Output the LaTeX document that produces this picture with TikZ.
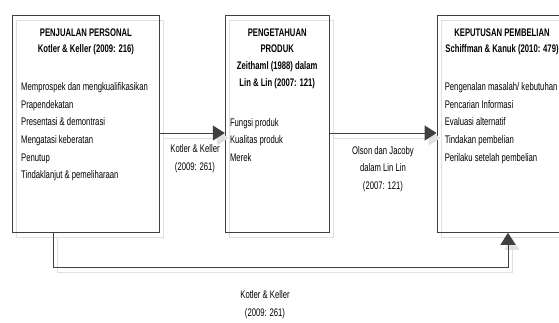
\documentclass[tikz,border=0pt]{standalone}
\usepackage{fontspec}
\setmainfont{Liberation Sans}[FakeStretch=0.7]
\usepackage{tikz}
\usetikzlibrary{arrows.meta, positioning, calc}
\usepackage{xcolor}

\begin{document}
\begin{tikzpicture}[
    x=1pt, y=-1pt,
    font=\fontsize{11}{17.6}\selectfont,
    ghost/.style={preaction={draw=black!12, line width=1pt, transform canvas={shift={(4pt,-5pt)}}}},
    box/.style={rectangle, draw=black!75, line width=0.8pt, ghost, minimum height=217pt, inner sep=0pt},
    title/.style={align=center, inner sep=0pt, font=\fontsize{11}{16.8}\selectfont\bfseries, execute at begin node=\strut},
    items/.style={align=left, inner sep=0pt, execute at begin node=\strut},
    lab/.style={align=center, inner sep=0pt, execute at begin node=\strut},
    line/.style={draw=black!75, line width=0.8pt, ghost, -{Triangle[length=12pt, width=15pt]}}
]
\useasboundingbox (0,0) rectangle (559,322);

% Boxes
\node[box, minimum width=147pt, anchor=north west] (personal) at (12,15) {};
\node[box, minimum width=104pt, right=65pt of personal] (produk) {};
\node[box, minimum width=130pt, right=107pt of produk] (keputusan) {};

% Box texts
\node[title, below=13.2pt of personal.north] (personalT) {PENJUALAN PERSONAL\\Kotler \& Keller (2009: 216)};
\node[items, below right=67.5pt and 9pt of personal.north west] (personalI) {Memprospek dan mengkualifikasikan\\Prapendekatan\\Presentasi \& demontrasi\\Mengatasi keberatan\\Penutup\\Tindaklanjut \& pemeliharaan};
\node[title, below=13.2pt of produk.north] (produkT) {PENGETAHUAN\\PRODUK\\Zeithaml (1988) dalam\\Lin \& Lin (2007: 121)};
\node[items, below right=103.2pt and 5pt of produk.north west] (produkI) {Fungsi produk\\Kualitas produk\\Merek};
\node[title, below=13.2pt of keputusan.north] (keputusanT) {KEPUTUSAN PEMBELIAN\\Schiffman \& Kanuk (2010: 479)};
\node[items, below right=67.5pt and 8pt of keputusan.north west] (keputusanI) {Pengenalan masalah/ kebutuhan\\Pencarian Informasi\\Evaluasi alternatif\\Tindakan pembelian\\Perilaku setelah pembelian};

% Labels
\node[lab, anchor=north] (lab1) at (195,144.5) {Kotler \& Keller\\(2009: 261)};
\node[lab, anchor=north] (lab2) at (383,146) {Olson dan Jacoby\\dalam Lin Lin\\(2007: 121)};
\node[lab, anchor=north] (lab3) at (265,290.5) {Kotler \& Keller\\(2009: 261)};

% Edges
\coordinate (row) at (0,133);
\coordinate (low) at (53,267);
\coordinate (up) at (508,0);
\draw[line] (personal.east |- row) -- (produk.west |- row);
\draw[line] (produk.east |- row) -- (keputusan.west |- row);
\draw[line] (personal.south -| low) -- (low) -| (keputusan.south -| up);

\end{tikzpicture}
\end{document}
